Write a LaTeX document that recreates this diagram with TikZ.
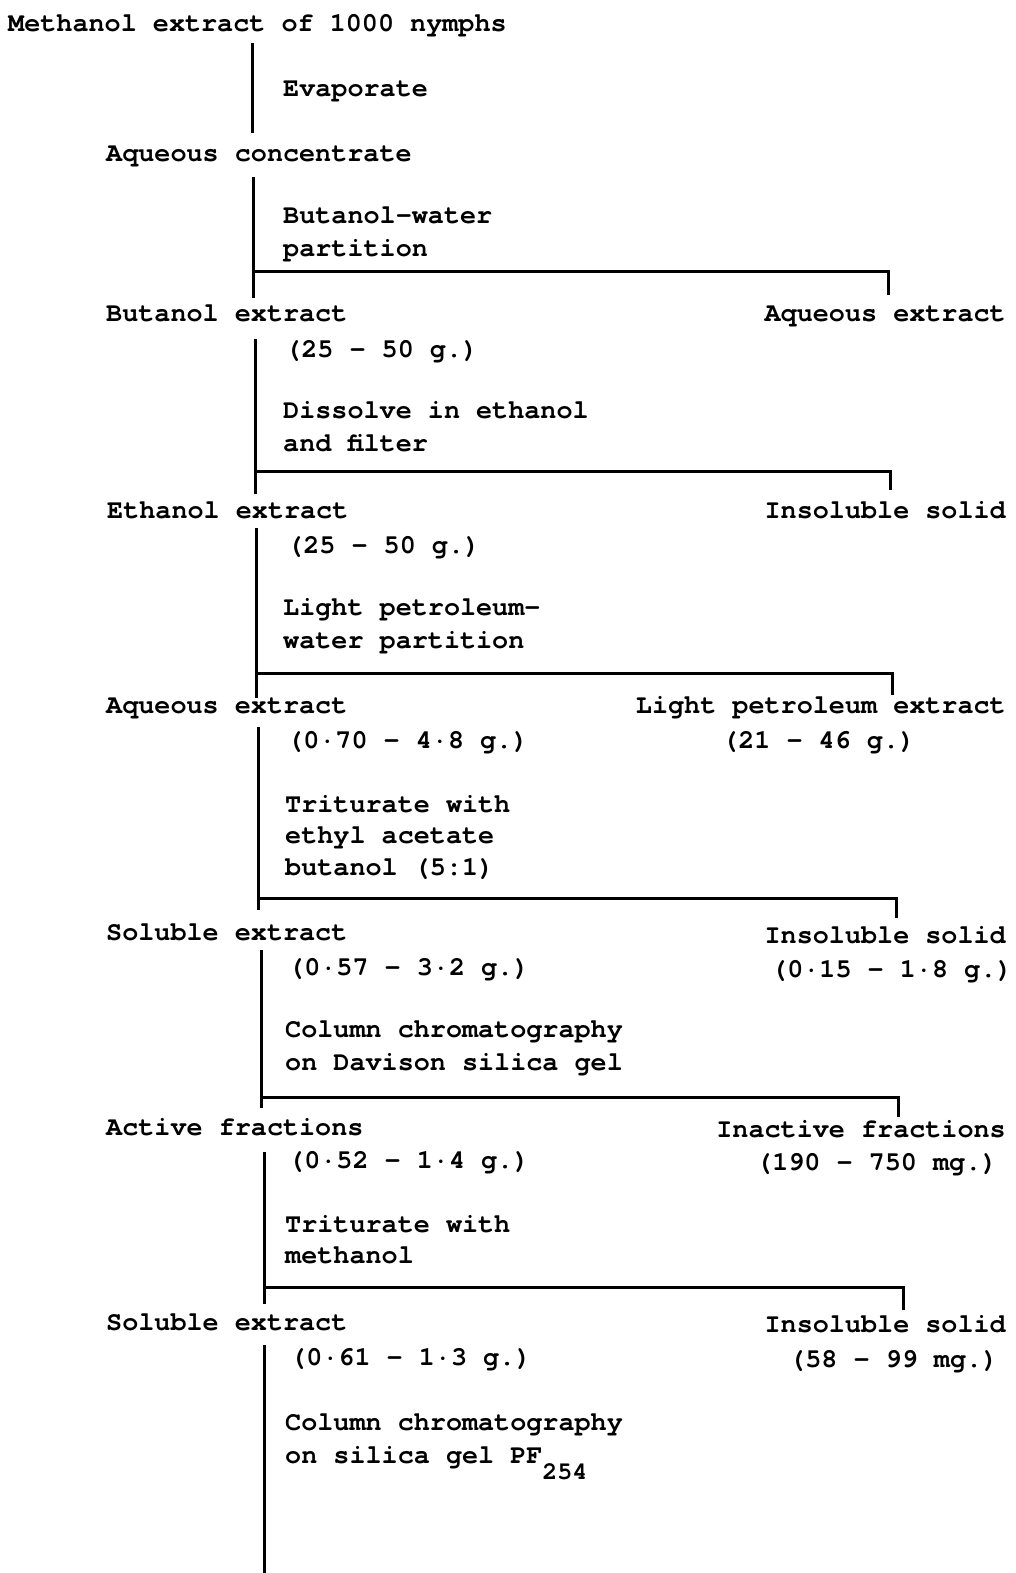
\documentclass[tikz,border=0pt]{standalone}
\usepackage{fontspec}
\newfontfamily\typewriter{TeX Gyre Cursor}
\begin{document}
\begin{tikzpicture}[x=1pt,y=-1pt,
  txt/.style={anchor=base west, inner sep=0pt, font=\typewriter\bfseries\fontsize{26.8}{32}\selectfont},
  rtxt/.style={txt, anchor=base east},
  rule/.style={line width=3pt, line cap=butt}]
\useasboundingbox (0,0) rectangle (1016,1573);
\fill[white] (0,0) rectangle (1016,1573);

% ---- stage 0 / 1
\node[txt] (m0) at (8,32) {Methanol extract of 1000 nymphs};
\node[txt] (s1) at (283,97) {Evaporate};
\node[txt] (m1) at (106,162) {Aqueous concentrate};

% ---- stage 2
\node[txt] (s2a) at (283,223) {Butanol-water};
\node[txt] (s2b) at (283,256) {partition};
\node[txt] (m2) at (106,321) {Butanol extract};
\node[rtxt] (r2) at (1006,321) {Aqueous extract};
\node[txt] (q2) at (285,357) {(25 - 50 g.)};

% ---- stage 3
\node[txt] (s3a) at (283,418) {Dissolve in ethanol};
\node[txt] (s3b) at (283,451) {and filter};
\node[txt] (m3) at (107,518) {Ethanol extract};
\node[rtxt] (r3) at (1006,518) {Insoluble solid};
\node[txt] (q3) at (287,553) {(25 - 50 g.)};

% ---- stage 4
\node[txt] (s4a) at (283,615) {Light petroleum-};
\node[txt] (s4b) at (283,648) {water partition};
\node[txt] (m4) at (106,713) {Aqueous extract};
\node[rtxt] (r4) at (1006,713) {Light petroleum extract};
\node[txt] (q4) at (287,748) {(0·70 - 4·8 g.)};
\node[txt] (rq4) at (722,748) {(21 - 46 g.)};

% ---- stage 5
\node[txt] (s5a) at (285,812) {Triturate with};
\node[txt] (s5b) at (285,843) {ethyl acetate};
\node[txt] (s5c) at (285,875) {butanol (5:1)};
\node[txt] (m5) at (106,940) {Soluble extract};
\node[rtxt] (r5) at (1006,943) {Insoluble solid};
\node[txt] (q5) at (288,975) {(0·57 - 3·2 g.)};
\node[txt] (rq5) at (771,977) {(0·15 - 1·8 g.)};

% ---- stage 6
\node[txt] (s6a) at (285,1037) {Column chromatography};
\node[txt] (s6b) at (285,1070) {on Davison silica gel};
\node[txt] (m6) at (106,1135) {Active fractions};
\node[rtxt] (r6) at (1006,1137) {Inactive fractions};
\node[txt] (q6) at (288,1168) {(0·52 - 1·4 g.)};
\node[txt] (rq6) at (756,1170) {(190 - 750 mg.)};

% ---- stage 7
\node[txt] (s7a) at (285,1232) {Triturate with};
\node[txt] (s7b) at (285,1263) {methanol};
\node[txt] (m7) at (106,1330) {Soluble extract};
\node[rtxt] (r7) at (1006,1332) {Insoluble solid};
\node[txt] (q7) at (290,1365) {(0·61 - 1·3 g.)};
\node[txt] (rq7) at (789,1367) {(58 - 99 mg.)};

% ---- stage 8
\node[txt] (s8a) at (285,1430) {Column chromatography};
\node[txt] (s8b) at (285,1463) {on silica gel PF\raisebox{-16pt}{\fontsize{25}{28}\selectfont 254}};

% ---- trunk and branch points
\coordinate (t1) at (252,43);   \coordinate (b1) at (252,133);
\coordinate (t2) at (253,177);  \coordinate (b2) at (253,298);
\coordinate (j2) at (253,271);  \coordinate (e2) at (888,295);
\coordinate (t3) at (255,339);  \coordinate (b3) at (255,494);
\coordinate (j3) at (255,471);  \coordinate (e3) at (890,490);
\coordinate (t4) at (256,528);  \coordinate (b4) at (256,698);
\coordinate (j4) at (256,673);  \coordinate (e4) at (892,695);
\coordinate (t5) at (258,727);  \coordinate (b5) at (258,910);
\coordinate (j5) at (258,898);  \coordinate (e5) at (896,918);
\coordinate (t6) at (261,950);  \coordinate (b6) at (261,1108);
\coordinate (j6) at (261,1097); \coordinate (e6) at (898,1117);
\coordinate (t7) at (264,1152); \coordinate (b7) at (264,1304);
\coordinate (j7) at (264,1287); \coordinate (e7) at (903,1310);
\coordinate (t8) at (264,1345); \coordinate (b8) at (264,1573);

\draw[rule] (t1) -- (b1);
\foreach \k in {2,...,7}{
  \draw[rule] (t\k) -- (b\k);
  \draw[rule] (j\k) -| (e\k);
}
\draw[rule] (t8) -- (b8);
\end{tikzpicture}
\end{document}
